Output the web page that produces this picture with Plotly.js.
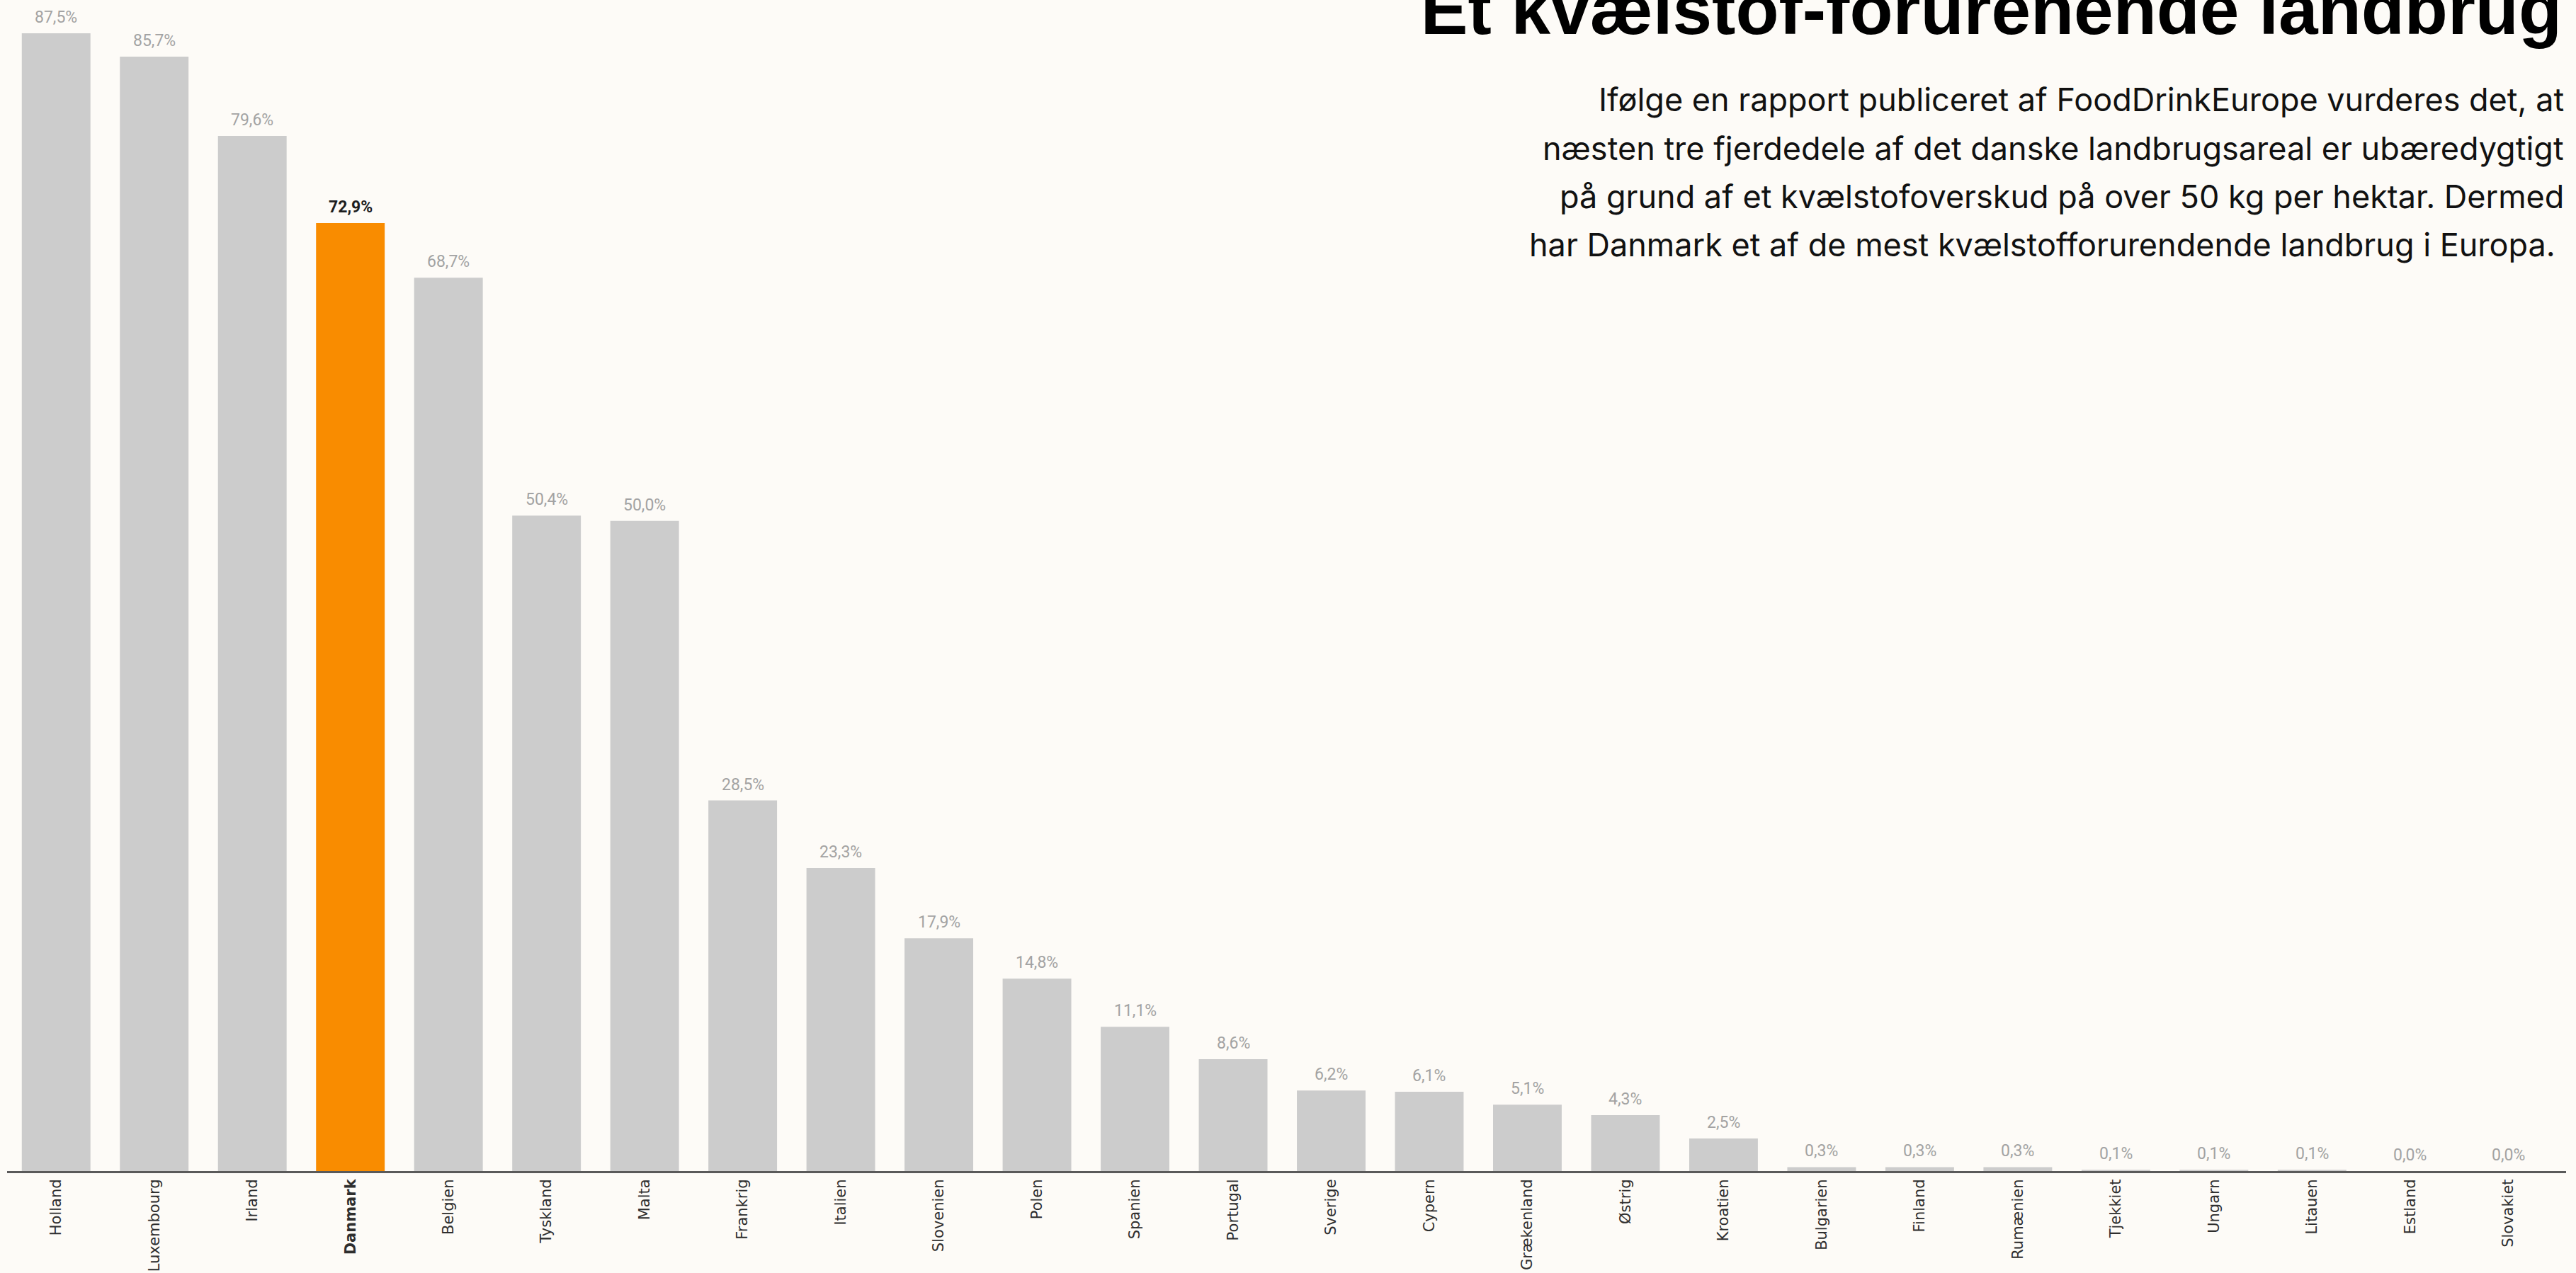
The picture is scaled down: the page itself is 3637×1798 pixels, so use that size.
<!DOCTYPE html>
<html>
<head>
<meta charset="utf-8">
<script src="https://cdn.plot.ly/plotly-3.0.1.min.js"></script>
<style>
  html, body { margin: 0; padding: 0; background: #fdfbf7; }
  #chart { width: 3637px; height: 1798px; }
</style>
</head>
<body>
<div id="chart"></div>
<script>
// ---- Data ----
const countries = ["Holland", "Luxembourg", "Irland", "Danmark", "Belgien", "Tyskland", "Malta", "Frankrig", "Italien", "Slovenien", "Polen", "Spanien", "Portugal", "Sverige", "Cypern", "Grækenland", "Østrig", "Kroatien", "Bulgarien", "Finland", "Rumænien", "Tjekkiet", "Ungarn", "Litauen", "Estland", "Slovakiet"];
const shares = [87.5, 85.7, 79.6, 72.9, 68.7, 50.4, 50.0, 28.5, 23.3, 17.9, 14.8, 11.1, 8.6, 6.2, 6.1, 5.1, 4.3, 2.5, 0.3, 0.3, 0.3, 0.1, 0.1, 0.1, 0.0, 0.0];
const highlight = "Danmark";
const titleText = "Et kvælstof-forurenende landbrug";
const subtitleLines = [
  "Ifølge en rapport publiceret af FoodDrinkEurope vurderes det, at",
  "næsten tre fjerdedele af det danske landbrugsareal er ubæredygtigt",
  "på grund af et kvælstofoverskud på over 50 kg per hektar. Dermed",
  "har Danmark et af de mest kvælstofforurendende landbrug i Europa.\u00a0"
];

// ---- Styles ----
const W = 3637, H = 1798;
const BG = "#fdfbf7";
const GREY = "#cccccc";
const ORANGE = "#f98c00";
const margin = { l: 10, r: 14, t: 1, b: 144 };
const plotH = H - margin.t - margin.b;
const plotW = W - margin.l - margin.r;

const fmt = v => v.toFixed(1).replace(".", ",") + "%";

const trace = {
  type: "bar",
  x: countries,
  y: shares,
  marker: { color: countries.map(c => c === highlight ? ORANGE : GREY), line: { width: 0 } },
  hoverinfo: "none"
};

const valueAnnotations = countries.map((c, i) => ({
  xref: "x", yref: "y", x: c, y: shares[i],
  text: c === highlight ? "<b>" + fmt(shares[i]) + "</b>" : fmt(shares[i]),
  showarrow: false, xanchor: "center", yanchor: "bottom", yshift: 7,
  font: { family: "Roboto", size: 23, color: c === highlight ? "#1e1e1e" : "#a3a3a3" }
}));

const pxToPaperY = py => (H - margin.b - py) / plotH;
const pxToPaperX = px => (px - margin.l) / plotW;

const subAnnotations = subtitleLines.map((t, i) => ({
  xref: "paper", yref: "paper",
  x: pxToPaperX(3622), y: pxToPaperY(157 + 68.3 * i - 16.3),
  xanchor: "right", yanchor: "middle", align: "right",
  text: t, showarrow: false,
  font: { family: "Inter", size: 45, color: "#111111" }
}));

const layout = {
  width: W, height: H,
  paper_bgcolor: BG, plot_bgcolor: BG,
  margin: margin,
  showlegend: false,
  bargap: 0.3,
  title: {
    text: "<b>" + titleText + "</b>",
    font: { family: "Liberation Sans", size: 100, color: "#000000" },
    xref: "container", yref: "container",
    x: 3617 / W, xanchor: "right",
    y: 1 - 48 / H, yanchor: "bottom"
  },
  xaxis: {
    type: "category",
    range: [-0.5, 25.59],
    tickmode: "array",
    tickvals: countries,
    ticktext: countries.map(c => c === highlight ? "<b>" + c + "</b>" : c),
    tickangle: -90,
    tickfont: { family: "DejaVu Sans", size: 21, color: "#2e2e2e" },
    showline: true, linecolor: "#5a5a5a", linewidth: 3,
    ticks: "", showgrid: false, zeroline: false,
    automargin: false, fixedrange: true
  },
  yaxis: {
    range: [0, 90],
    visible: false, showgrid: false, zeroline: false,
    automargin: false, fixedrange: true
  },
  annotations: valueAnnotations.concat(subAnnotations)
};

Plotly.newPlot("chart", [trace], layout, { staticPlot: true, displayModeBar: false });
</script>
</body>
</html>
